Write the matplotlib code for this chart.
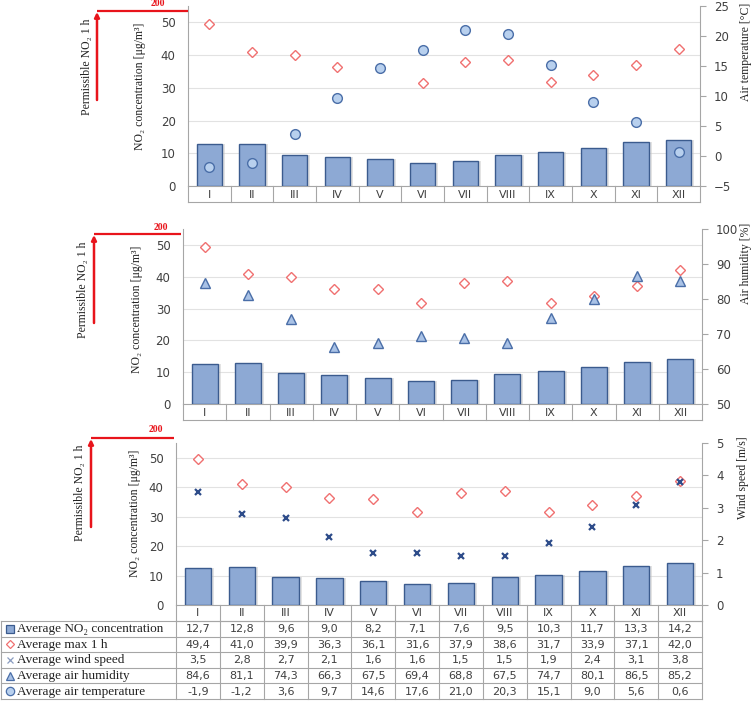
import matplotlib
matplotlib.use("Agg")
import matplotlib.pyplot as plt
import numpy as np

# ---------------- data ----------------
months = ["I", "II", "III", "IV", "V", "VI", "VII", "VIII", "IX", "X", "XI", "XII"]
no2_avg = [12.7, 12.8, 9.6, 9.0, 8.2, 7.1, 7.6, 9.5, 10.3, 11.7, 13.3, 14.2]
no2_max1h = [49.4, 41.0, 39.9, 36.3, 36.1, 31.6, 37.9, 38.6, 31.7, 33.9, 37.1, 42.0]
wind_speed = [3.5, 2.8, 2.7, 2.1, 1.6, 1.6, 1.5, 1.5, 1.9, 2.4, 3.1, 3.8]
air_humidity = [84.6, 81.1, 74.3, 66.3, 67.5, 69.4, 68.8, 67.5, 74.7, 80.1, 86.5, 85.2]
air_temperature = [-1.9, -1.2, 3.6, 9.7, 14.6, 17.6, 21.0, 20.3, 15.1, 9.0, 5.6, 0.6]
permissible_label = "200"
table_labels = ["Average NO\u2082 concentration", "Average max 1 h", "Average wind speed",
                "Average air humidity", "Average air temperature"]

W, H = 756, 701
fig = plt.figure(figsize=(W / 100, H / 100), dpi=100)

BAR_FACE = "#8DA9D4"
BAR_EDGE = "#3B5B8E"
RED = "#E8141B"
DIA = "#F07070"
CIRC_FACE = "#B8D0EE"
TRI_FACE = "#A9C2E6"
MK_EDGE = "#4A6EA8"
XCOL = "#2E4C8A"
TXT = "#404040"
GRID = "#E2E2E2"
SPINE = "#A6A6A6"
SERIF = ["Liberation Serif", "DejaVu Serif"]
SANS = ["DejaVu Sans"]


def rect(l, r, t, b):
    return [l / W, 1 - b / H, (r - l) / W, (b - t) / H]


panels = [
    dict(l=188, r=700, t=6, b=186, slim=(-5, 25), sticks=np.arange(-5, 26, 5),
         slabel="Air temperature [\u00b0C]", series=air_temperature, kind="circle",
         ax_x=97, line_y=11, line_end=188, t200=(158, 4), ax_bot=100,
         perm=(87, 67), ylab=(140, 86), rlab=(746, 52)),
    dict(l=183, r=702, t=229, b=404, slim=(50, 100), sticks=np.arange(50, 101, 10),
         slabel="Air humidity [%]", series=air_humidity, kind="tri",
         ax_x=94, line_y=234, line_end=181, t200=(161, 227), ax_bot=323,
         perm=(83, 290), ylab=(137, 309), rlab=(746, 263)),
    dict(l=176, r=702, t=443, b=605, slim=(0, 5), sticks=np.arange(0, 6, 1),
         slabel="Wind speed [m/s]", series=wind_speed, kind="x",
         ax_x=91, line_y=438, line_end=174, t200=(156, 430), ax_bot=527,
         perm=(80, 493), ylab=(135, 513), rlab=(743, 478)),
]

ov = fig.add_axes([0, 0, 1, 1], zorder=10)
ov.set_xlim(0, W)
ov.set_ylim(H, 0)
ov.axis("off")
ov.patch.set_alpha(0)

x = np.arange(len(months))
ROW = 16

for p in panels:
    ax = fig.add_axes(rect(p["l"], p["r"], p["t"], p["b"]))
    ax.set_xlim(-0.5, len(months) - 0.5)
    ax.set_ylim(0, 55)
    ax.set_yticks(np.arange(0, 51, 10))
    ax.yaxis.grid(True, color=GRID, lw=0.8)
    ax.set_axisbelow(True)
    ax.set_xticks([])
    for s in ["top", "right"]:
        ax.spines[s].set_visible(False)
    ax.spines["left"].set_color(SPINE)
    ax.spines["bottom"].set_color(SPINE)
    ax.tick_params(axis="y", length=0, pad=9, labelsize=8.5, labelcolor=TXT)

    # shadow + bars
    ax.bar(x + 0.07, no2_avg, width=0.6, color="#C8C8C8", alpha=0.5, zorder=2, lw=0)
    ax.bar(x, no2_avg, width=0.6, color=BAR_FACE, edgecolor=BAR_EDGE, lw=1.0, zorder=3)

    ax2 = ax.twinx()
    ax2.set_ylim(*p["slim"])
    ax2.set_yticks(p["sticks"])
    for s in ["top", "left", "bottom"]:
        ax2.spines[s].set_visible(False)
    ax2.spines["right"].set_color(SPINE)
    ax2.tick_params(axis="y", length=4, color=SPINE, pad=6, labelsize=8.5, labelcolor=TXT)

    ax.plot(x, no2_max1h, ls="none", marker="D", ms=5.5, mfc="white", mec=DIA, mew=1.0, zorder=5)

    if p["kind"] == "circle":
        ax2.plot(x, p["series"], ls="none", marker="o", ms=7, mfc=CIRC_FACE, mec=MK_EDGE, mew=1.0, zorder=6)
    elif p["kind"] == "tri":
        ax2.plot(x, p["series"], ls="none", marker="^", ms=7, mfc=TRI_FACE, mec=MK_EDGE, mew=1.0, zorder=6)
    else:
        ax2.plot(x, p["series"], ls="none", marker="x", ms=4.5, mec=XCOL, mew=1.6, zorder=6)

    # category row
    l, r, b = p["l"], p["r"], p["b"]
    cw = (r - l) / len(months)
    ov.plot([l, r], [b + ROW, b + ROW], color=SPINE, lw=0.8)
    for k in range(len(months) + 1):
        ov.plot([l + k * cw, l + k * cw], [b, b + ROW], color=SPINE, lw=0.8)
    for k, m in enumerate(months):
        ov.text(l + (k + 0.5) * cw, b + ROW / 2 + 0.5, m, ha="center", va="center",
                fontsize=8, color=TXT, family=SANS)

    # red permissible annotation
    ov.plot([p["ax_x"], p["line_end"]], [p["line_y"], p["line_y"]], color=RED, lw=1.6,
            solid_capstyle="butt")
    ov.annotate("", xy=(p["ax_x"], p["line_y"] + 1), xytext=(p["ax_x"], p["ax_bot"]),
                arrowprops=dict(arrowstyle="-|>", color=RED, lw=1.8, mutation_scale=7,
                                shrinkA=0, shrinkB=0))
    ov.text(p["t200"][0], p["t200"][1], permissible_label, color=RED, fontsize=7,
            fontweight="bold", family=SERIF, ha="center", va="center")
    ov.text(p["perm"][0], p["perm"][1], "Permissible NO\u2082 1 h", rotation=90,
            fontsize=8.5, family=SERIF, ha="center", va="center", color="#222222")
    ov.text(p["ylab"][0], p["ylab"][1], "NO\u2082 concentration [\u03bcg/m\u00b3]", rotation=90,
            fontsize=8.5, family=SERIF, ha="center", va="center", color="#222222")
    ov.text(p["rlab"][0], p["rlab"][1], p["slabel"], rotation=90,
            fontsize=8.5, family=SERIF, ha="center", va="center", color="#222222")

# ---------------- table under panel 3 ----------------
p = panels[2]
l, r, b = p["l"], p["r"], p["b"]
cw = (r - l) / len(months)
rows = [no2_avg, no2_max1h, wind_speed, air_humidity, air_temperature]
RH = 15.6
top = b + ROW
bottom = top + RH * len(rows)
for i in range(len(rows) + 1):
    yy = top + i * RH
    ov.plot([1, r], [yy, yy], color=SPINE, lw=0.8)
ov.plot([1, 1], [top, bottom], color=SPINE, lw=0.8)
for k in range(len(months) + 1):
    ov.plot([l + k * cw, l + k * cw], [top, bottom], color=SPINE, lw=0.8)

mk_x = 10
for i, (lab, vals) in enumerate(zip(table_labels, rows)):
    yc = top + (i + 0.5) * RH
    if i == 0:
        ov.plot([mk_x], [yc], marker="s", ms=6, mfc=BAR_FACE, mec=BAR_EDGE, mew=0.9)
    elif i == 1:
        ov.plot([mk_x], [yc], marker="D", ms=4.5, mfc="white", mec=DIA, mew=0.9)
    elif i == 2:
        ov.plot([mk_x], [yc], marker="x", ms=4.5, mec="#8A9CC0", mew=0.9)
    elif i == 3:
        ov.plot([mk_x], [yc], marker="^", ms=6, mfc=TRI_FACE, mec=MK_EDGE, mew=0.9)
    else:
        ov.plot([mk_x], [yc], marker="o", ms=6, mfc=CIRC_FACE, mec=MK_EDGE, mew=0.9)
    ov.text(17, yc + 0.5, lab, fontsize=9.5, family=SERIF, ha="left", va="center", color="#222222")
    for k, v in enumerate(vals):
        ov.text(l + (k + 0.5) * cw, yc + 0.5, f"{v:.1f}".replace(".", ","), ha="center",
                va="center", fontsize=8, color=TXT, family=SANS)

fig.savefig("out.png", dpi=100, facecolor="white")
